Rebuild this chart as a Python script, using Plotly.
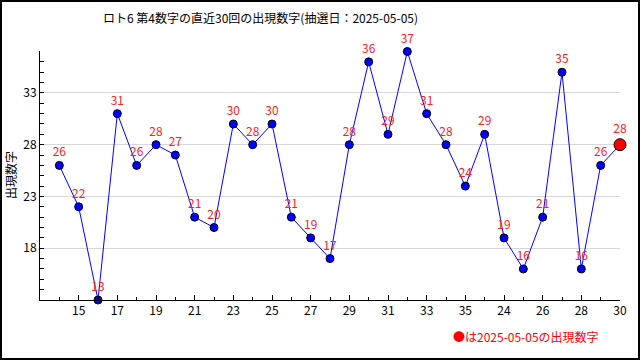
import plotly.graph_objects as go

# Data
values = [26, 22, 13, 31, 26, 28, 27, 21, 20, 30, 28, 30, 21, 19, 17,
          28, 36, 29, 37, 31, 28, 24, 29, 19, 16, 21, 35, 16, 26, 28]
tick_labels = ["15", "17", "19", "21", "23", "25", "27", "29", "31", "33",
               "35", "24", "26", "28", "30"]
y_ticks = [18, 23, 28, 33]
title_text = "ロト6 第4数字の直近30回の出現数字(抽選日：2025-05-05)"
y_title = "出現数字"
legend_text = "●は2025-05-05の出現数字"

positions = list(range(1, len(values) + 1))
tick_positions = positions[1::2]

FONT = "Noto Sans CJK JP, DejaVu Sans, sans-serif"

# plot area in pixels: left 40, right 620, top 51, bottom 300
L, R, T, B = 40, 620, 51, 300
W, H = R - L, B - T
def px(x):
    return (x - L) / W
def py(y):
    return (B - y) / H

fig = go.Figure()
fig.add_trace(go.Scatter(
    x=positions,
    y=values,
    mode="lines+markers+text",
    line=dict(color="#0000ff", width=1),
    marker=dict(color=["#0000ff"] * (len(values) - 1) + ["#ff0000"],
                size=[8] * (len(values) - 1) + [12],
                opacity=1,
                line=dict(color="black", width=1)),
    text=[str(v) for v in values],
    textposition="top center",
    textfont=dict(color="#ff2020", size=12, family=FONT),
    cliponaxis=False,
    hoverinfo="skip",
))

fig.update_layout(
    width=640, height=360,
    margin=dict(l=L, r=640 - R, t=T, b=360 - B),
    paper_bgcolor="white", plot_bgcolor="white",
    showlegend=False,
    font=dict(family=FONT, size=12, color="black"),
    xaxis=dict(range=[0, len(values)], tickmode="array",
               tickvals=tick_positions, ticktext=tick_labels,
               ticks="inside", ticklen=5, tickcolor="black",
               showline=True, linecolor="black", linewidth=1,
               showgrid=False, zeroline=False,
               tickfont=dict(size=12, color="black"),
               minor=dict(tickmode="linear", tick0=0, dtick=1,
                          ticks="inside", ticklen=3, tickcolor="black",
                          showgrid=False)),
    yaxis=dict(range=[13, 37.05], tickmode="array", tickvals=y_ticks,
               ticks="inside", ticklen=4, tickcolor="black",
               showline=True, linecolor="black", linewidth=1,
               showgrid=True, gridcolor="#d8d8d8", gridwidth=1,
               zeroline=False,
               tickfont=dict(size=12, color="black"),
               minor=dict(tickmode="linear", tick0=0, dtick=1,
                          ticks="inside", ticklen=4, tickcolor="black",
                          showgrid=False)),
)

fig.add_annotation(text=title_text, x=px(260), y=py(17), xref="paper",
                   yref="paper", showarrow=False, xanchor="center",
                   yanchor="middle", font=dict(size=12, color="black"))
fig.add_annotation(text=y_title, x=px(10), y=py(175), xref="paper",
                   yref="paper", showarrow=False, textangle=-90,
                   xanchor="center", yanchor="middle",
                   font=dict(size=12, color="black"))
fig.add_annotation(text=legend_text, x=px(601), y=py(336), xref="paper",
                   yref="paper", showarrow=False, xanchor="right",
                   yanchor="middle", font=dict(size=12, color="#ff0000"))

fig.add_shape(type="rect", xref="paper", yref="paper",
              x0=px(1), x1=px(639), y0=py(359), y1=py(1),
              line=dict(color="black", width=2), fillcolor="rgba(0,0,0,0)")

fig.write_html("out.html", config={"displayModeBar": False},
               post_script="document.body.style.margin='0';document.body.style.overflow='hidden';")
